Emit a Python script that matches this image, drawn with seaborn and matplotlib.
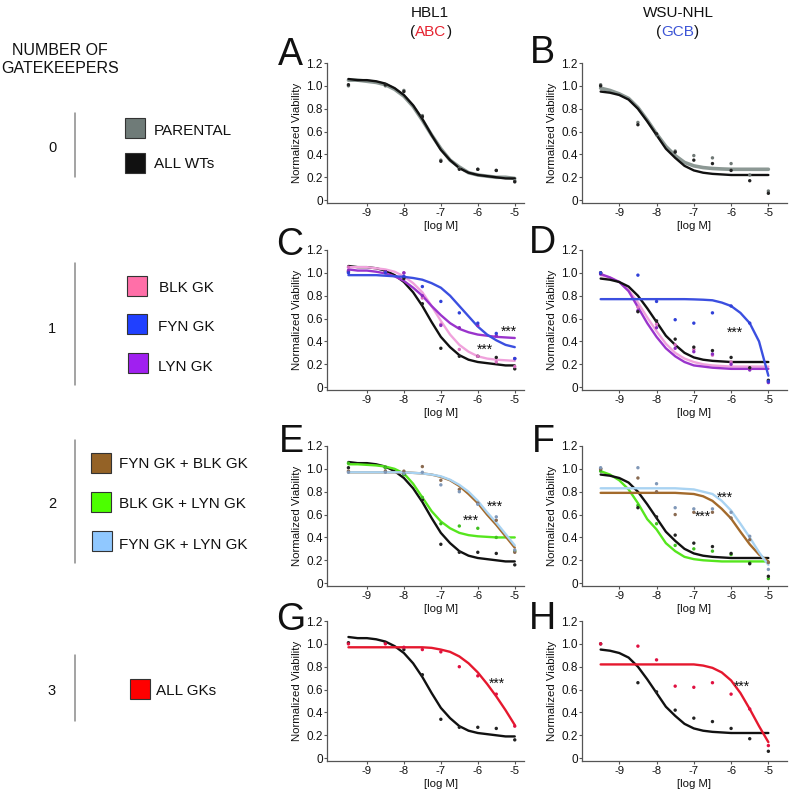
import matplotlib
matplotlib.use("Agg")
import matplotlib.pyplot as plt
from matplotlib.patches import Rectangle
from matplotlib.lines import Line2D
import seaborn as sns

sns.set_theme(style="white")
plt.rcParams["font.family"] = ["Liberation Sans", "DejaVu Sans"]

# x positions: fitted curve grid and tested doses, [log M]
X_FIT = [-9.5, -9.25, -9.0, -8.75, -8.5, -8.25, -8.0, -7.75, -7.5, -7.25,
         -7.0, -6.75, -6.5, -6.25, -6.0, -5.75, -5.5, -5.25, -5.0]
X_DOSE = [-9.5, -8.5, -8.0, -7.5, -7.0, -6.5, -6.0, -5.5, -5.0]

# HBL1 (ABC) fitted curves
HBL1_WT_FIT = [1.06, 1.05, 1.05, 1.04, 1.02, 0.98, 0.92, 0.83, 0.71, 0.57, 0.44, 0.35, 0.28, 0.24, 0.22, 0.21, 0.20, 0.19, 0.19]
HBL1_PAR_FIT = [1.05, 1.05, 1.04, 1.03, 1.01, 0.97, 0.91, 0.82, 0.70, 0.57, 0.45, 0.35, 0.29, 0.24, 0.22, 0.21, 0.20, 0.20, 0.19]
HBL1_BLK_FIT = [1.05, 1.05, 1.05, 1.04, 1.03, 1.01, 0.97, 0.91, 0.83, 0.71, 0.58, 0.46, 0.37, 0.31, 0.27, 0.25, 0.24, 0.235, 0.23]
HBL1_FYN_FIT = [0.98, 0.98, 0.98, 0.98, 0.975, 0.97, 0.965, 0.955, 0.94, 0.91, 0.87, 0.80, 0.71, 0.62, 0.53, 0.46, 0.41, 0.37, 0.35]
HBL1_LYN_FIT = [1.03, 1.02, 1.02, 1.01, 0.995, 0.97, 0.93, 0.87, 0.80, 0.71, 0.63, 0.56, 0.51, 0.48, 0.46, 0.45, 0.44, 0.435, 0.43]
HBL1_FB_FIT = [0.97, 0.97, 0.97, 0.97, 0.97, 0.97, 0.97, 0.965, 0.96, 0.95, 0.93, 0.90, 0.85, 0.78, 0.70, 0.60, 0.51, 0.41, 0.31]
HBL1_BL_FIT = [1.04, 1.04, 1.035, 1.03, 1.02, 1.00, 0.96, 0.87, 0.75, 0.63, 0.54, 0.48, 0.44, 0.42, 0.41, 0.405, 0.40, 0.40, 0.40]
HBL1_FL_FIT = [0.97, 0.97, 0.97, 0.97, 0.97, 0.97, 0.97, 0.965, 0.96, 0.95, 0.935, 0.905, 0.86, 0.80, 0.72, 0.62, 0.53, 0.43, 0.33]
HBL1_ALL_FIT = [0.97, 0.97, 0.97, 0.97, 0.97, 0.97, 0.97, 0.97, 0.97, 0.965, 0.95, 0.93, 0.89, 0.83, 0.75, 0.65, 0.54, 0.42, 0.29]

# WSU-NHL (GCB) fitted curves
WSU_WT_FIT = [0.95, 0.94, 0.92, 0.88, 0.80, 0.69, 0.57, 0.45, 0.37, 0.30, 0.26, 0.24, 0.23, 0.225, 0.22, 0.22, 0.22, 0.22, 0.22]
WSU_PAR_FIT = [0.98, 0.96, 0.93, 0.89, 0.81, 0.70, 0.58, 0.47, 0.39, 0.33, 0.30, 0.285, 0.277, 0.273, 0.27, 0.27, 0.27, 0.27, 0.27]
WSU_BLK_FIT = [0.98, 0.96, 0.92, 0.85, 0.74, 0.61, 0.49, 0.38, 0.30, 0.25, 0.22, 0.20, 0.19, 0.185, 0.18, 0.18, 0.18, 0.18, 0.18]
WSU_FYN_FIT = [0.77, 0.77, 0.77, 0.77, 0.77, 0.77, 0.77, 0.77, 0.77, 0.77, 0.768, 0.765, 0.76, 0.74, 0.71, 0.65, 0.56, 0.40, 0.10]
WSU_LYN_FIT = [0.99, 0.96, 0.92, 0.84, 0.70, 0.56, 0.44, 0.34, 0.27, 0.22, 0.19, 0.18, 0.17, 0.165, 0.16, 0.16, 0.16, 0.16, 0.16]
WSU_FB_FIT = [0.79, 0.79, 0.79, 0.79, 0.79, 0.79, 0.79, 0.79, 0.79, 0.785, 0.78, 0.76, 0.72, 0.65, 0.565, 0.45, 0.34, 0.25, 0.19]
WSU_BL_FIT = [0.98, 0.95, 0.90, 0.82, 0.70, 0.56, 0.47, 0.35, 0.28, 0.23, 0.21, 0.20, 0.195, 0.19, 0.19, 0.19, 0.19, 0.19, 0.19]
WSU_FL_FIT = [0.83, 0.83, 0.83, 0.83, 0.83, 0.83, 0.83, 0.83, 0.83, 0.825, 0.82, 0.80, 0.78, 0.72, 0.635, 0.52, 0.40, 0.27, 0.16]
WSU_ALL_FIT = [0.82, 0.82, 0.82, 0.82, 0.82, 0.82, 0.82, 0.82, 0.82, 0.82, 0.82, 0.81, 0.79, 0.75, 0.68, 0.57, 0.43, 0.28, 0.14]

# measured means at each dose
HBL1_WT_PTS = [1.01, 1.01, 0.95, 0.73, 0.34, 0.27, 0.27, 0.26, 0.16]
HBL1_PAR_PTS = [1.00, 1.00, 0.96, 0.74, 0.35, 0.28, 0.27, 0.26, 0.17]
HBL1_BLK_PTS = [1.05, 1.00, 1.00, 0.78, 0.55, 0.33, 0.27, 0.22, 0.18]
HBL1_FYN_PTS = [1.00, 1.00, 0.97, 0.88, 0.75, 0.65, 0.56, 0.47, 0.25]
HBL1_LYN_PTS = [1.02, 1.01, 1.00, 0.80, 0.54, 0.52, 0.54, 0.45, 0.25]
HBL1_FB_PTS = [0.98, 0.98, 0.98, 1.02, 0.90, 0.82, 0.70, 0.55, 0.27]
HBL1_BL_PTS = [1.05, 1.01, 0.95, 0.75, 0.52, 0.50, 0.48, 0.40, 0.28]
HBL1_FL_PTS = [0.97, 0.97, 0.96, 0.97, 0.86, 0.80, 0.69, 0.58, 0.29]
HBL1_ALL_PTS = [1.00, 1.00, 0.97, 0.95, 0.93, 0.80, 0.72, 0.56, 0.28]
WSU_WT_PTS = [1.00, 0.66, 0.58, 0.42, 0.35, 0.32, 0.26, 0.17, 0.06]
WSU_PAR_PTS = [1.01, 0.68, 0.57, 0.43, 0.39, 0.37, 0.32, 0.22, 0.08]
WSU_BLK_PTS = [1.00, 0.70, 0.55, 0.37, 0.33, 0.28, 0.22, 0.16, 0.05]
WSU_FYN_PTS = [1.00, 0.98, 0.75, 0.59, 0.56, 0.65, 0.71, 0.56, 0.05]
WSU_LYN_PTS = [0.99, 0.67, 0.52, 0.34, 0.31, 0.29, 0.20, 0.15, 0.04]
WSU_FB_PTS = [1.00, 0.92, 0.80, 0.60, 0.62, 0.62, 0.57, 0.38, 0.18]
WSU_BL_PTS = [0.98, 0.68, 0.52, 0.33, 0.30, 0.28, 0.25, 0.18, 0.04]
WSU_FL_PTS = [1.01, 1.01, 0.87, 0.66, 0.65, 0.65, 0.62, 0.41, 0.12]
WSU_ALL_PTS = [1.00, 0.98, 0.86, 0.63, 0.62, 0.66, 0.56, 0.43, 0.11]

Y_TICKS = [0, 0.2, 0.4, 0.6, 0.8, 1.0, 1.2]
Y_TICKLABELS = ["0", "0.2", "0.4", "0.6", "0.8", "1.0", "1.2"]
X_TICKS = [-9, -8, -7, -6, -5]
X_TICKLABELS = ["-9", "-8", "-7", "-6", "-5"]

HBL1 = {
    "WT": (HBL1_WT_FIT, HBL1_WT_PTS), "PAR": (HBL1_PAR_FIT, HBL1_PAR_PTS),
    "BLK": (HBL1_BLK_FIT, HBL1_BLK_PTS), "FYN": (HBL1_FYN_FIT, HBL1_FYN_PTS),
    "LYN": (HBL1_LYN_FIT, HBL1_LYN_PTS), "FB": (HBL1_FB_FIT, HBL1_FB_PTS),
    "BL": (HBL1_BL_FIT, HBL1_BL_PTS), "FL": (HBL1_FL_FIT, HBL1_FL_PTS),
    "ALL": (HBL1_ALL_FIT, HBL1_ALL_PTS),
}
WSU = {
    "WT": (WSU_WT_FIT, WSU_WT_PTS), "PAR": (WSU_PAR_FIT, WSU_PAR_PTS),
    "BLK": (WSU_BLK_FIT, WSU_BLK_PTS), "FYN": (WSU_FYN_FIT, WSU_FYN_PTS),
    "LYN": (WSU_LYN_FIT, WSU_LYN_PTS), "FB": (WSU_FB_FIT, WSU_FB_PTS),
    "BL": (WSU_BL_FIT, WSU_BL_PTS), "FL": (WSU_FL_FIT, WSU_FL_PTS),
    "ALL": (WSU_ALL_FIT, WSU_ALL_PTS),
}

CURVE_COLORS = {"PAR": "#8c9894", "WT": "#111111", "BLK": "#f0a2dc", "FYN": "#3b4fe0",
                "LYN": "#9a34cc", "FB": "#a36a2b", "BL": "#56e61e", "FL": "#a9d3f2",
                "ALL": "#e5182e"}
POINT_COLORS = {"PAR": "#6f7875", "WT": "#222222", "BLK": "#d870c0", "FYN": "#3040d8",
                "LYN": "#8a2cc0", "FB": "#8a6a50", "BL": "#40c020", "FL": "#8098b8",
                "ALL": "#e01040"}

# (letter, column, row, series in draw order, star label spots)
PANELS = [
    ("A", 0, 0, ["PAR", "WT"], []),
    ("B", 1, 0, ["PAR", "WT"], []),
    ("C", 0, 1, ["WT", "BLK", "LYN", "FYN"], [(-5.17, 0.45), (-5.8, 0.29)]),
    ("D", 1, 1, ["BLK", "LYN", "WT", "FYN"], [(-5.9, 0.44)]),
    ("E", 0, 2, ["WT", "BL", "FB", "FL"], [(-5.55, 0.63), (-6.2, 0.515)]),
    ("F", 1, 2, ["BL", "WT", "FB", "FL"], [(-6.17, 0.71), (-6.76, 0.545)]),
    ("G", 0, 3, ["WT", "ALL"], [(-5.49, 0.62)]),
    ("H", 1, 3, ["WT", "ALL"], [(-5.72, 0.59)]),
]

W, H = 796, 792
fig = plt.figure(figsize=(W / 100, H / 100), dpi=100)


def fx(px):
    return px / W


def fy(py):
    return 1 - py / H


COL_LEFT = [327, 582]
COL_WIDTH = [197, 205]
COL_XLIM = [(-10.08, -4.75), (-10.0, -4.5)]
ROW_BOTTOM = [203, 390, 586, 761]
AX_H = 140
LETTER_POS = {"A": (290, 65), "B": (542, 63), "C": (290, 255), "D": (542, 253),
              "E": (291, 452), "F": (543, 452), "G": (291, 630), "H": (542, 629)}

for letter, col, row, series, stars in PANELS:
    data = HBL1 if col == 0 else WSU
    ax = fig.add_axes([fx(COL_LEFT[col]), fy(ROW_BOTTOM[row]),
                       COL_WIDTH[col] / W, AX_H / H])
    for key in series:
        fit, pts = data[key]
        lw = 2.6 if key == "PAR" else 1.7
        sns.lineplot(x=X_FIT, y=fit, color=CURVE_COLORS[key], lw=lw, ax=ax, zorder=2)
        sns.scatterplot(x=X_DOSE, y=pts, color=POINT_COLORS[key], s=6,
                        edgecolor="none", ax=ax, zorder=3)
    for sx, sy in stars:
        ax.text(sx, sy, "***", fontsize=10, ha="center", va="baseline", color="#111111")

    x0, x1 = COL_XLIM[col]
    ax.set_xlim(x0, x1)
    ax.set_ylim(-0.025, 1.2)
    ax.set_yticks(Y_TICKS)
    ax.set_yticklabels(Y_TICKLABELS)
    ax.set_xticks(X_TICKS)
    ax.set_xticklabels(X_TICKLABELS)
    ax.tick_params(axis="x", bottom=True, length=2.5, width=0.8, color="#555555",
                   labelsize=8.2, pad=1, labelcolor="#111111")
    ax.tick_params(axis="y", left=True, length=2, width=0.8, color="#555555",
                   labelsize=8.5, pad=1, labelcolor="#111111")
    sns.despine(ax=ax)
    for side in ["left", "bottom"]:
        ax.spines[side].set_color("#555555")
        ax.spines[side].set_linewidth(0.9)
    ax.set_ylabel("Normalized Viability", fontsize=8.2, labelpad=3, color="#111111")
    ax.set_xlabel("[log M]", fontsize=8.2, color="#111111")
    ax.xaxis.set_label_coords((-7 - x0) / (x1 - x0), -0.127)

    lx, ly = LETTER_POS[letter]
    fig.text(fx(lx), fy(ly), letter, fontsize=27, ha="center", va="baseline", color="#111111")

# column headers
fig.text(fx(430), fy(17), "HBL1", fontsize=11, ha="center", va="baseline", color="#111111")
fig.text(fx(678), fy(17), "WSU-NHL", fontsize=11, ha="center", va="baseline", color="#111111")
for start, word, color in [(410, "ABC", "#e52330"), (656, "GCB", "#3d55d6")]:
    t1 = fig.text(fx(start), fy(36), "(", fontsize=11, ha="left", va="baseline", color="#111111")
    a2 = plt.annotate(word, xy=(1, 0), xycoords=t1, ha="left", va="bottom",
                      fontsize=11, color=color, annotation_clip=False)
    plt.annotate(")", xy=(1, 0), xycoords=a2, ha="left", va="bottom",
                 fontsize=11, color="#111111", annotation_clip=False)

# left-hand key
fig.text(fx(60), fy(55), "NUMBER OF", fontsize=11.5, ha="center", va="baseline", color="#111111")
fig.text(fx(60), fy(73), "GATEKEEPERS", fontsize=11.5, ha="center", va="baseline", color="#111111")

GROUPS = [("0", 113, 177, 152), ("1", 263, 385, 333), ("2", 440, 563, 508), ("3", 655, 721, 695)]
for num, y0, y1, base in GROUPS:
    fig.text(fx(52), fy(base), num, fontsize=10.5, ha="center", va="baseline", color="#111111")
    fig.add_artist(Line2D([fx(75), fx(75)], [fy(y0), fy(y1)], color="#8a8a8a", lw=1.1))

KEY = [
    ("PARENTAL", "#6f7b78", 125, 128, 154, 135),
    ("ALL WTs", "#111111", 125, 163, 154, 168),
    ("BLK GK", "#ff6fa8", 127, 286, 159, 292),
    ("FYN GK", "#2040ff", 127, 324, 158, 331),
    ("LYN GK", "#a020f0", 128, 363, 158, 371),
    ("FYN GK + BLK GK", "#946226", 91, 463, 119, 468),
    ("BLK GK + LYN GK", "#4cff00", 91, 502, 119, 508),
    ("FYN GK + LYN GK", "#90c8ff", 92, 541, 119, 549),
    ("ALL GKs", "#ff0000", 130, 689, 156, 695),
]
for label, color, sx, scy, tx, tb in KEY:
    fig.add_artist(Rectangle((fx(sx), fy(scy + 10)), 20 / W, 20 / H,
                             transform=fig.transFigure, facecolor=color,
                             edgecolor="#333333", lw=0.8))
    fig.text(fx(tx), fy(tb), label, fontsize=11, ha="left", va="baseline", color="#111111")

fig.savefig("out.png", dpi=100)
